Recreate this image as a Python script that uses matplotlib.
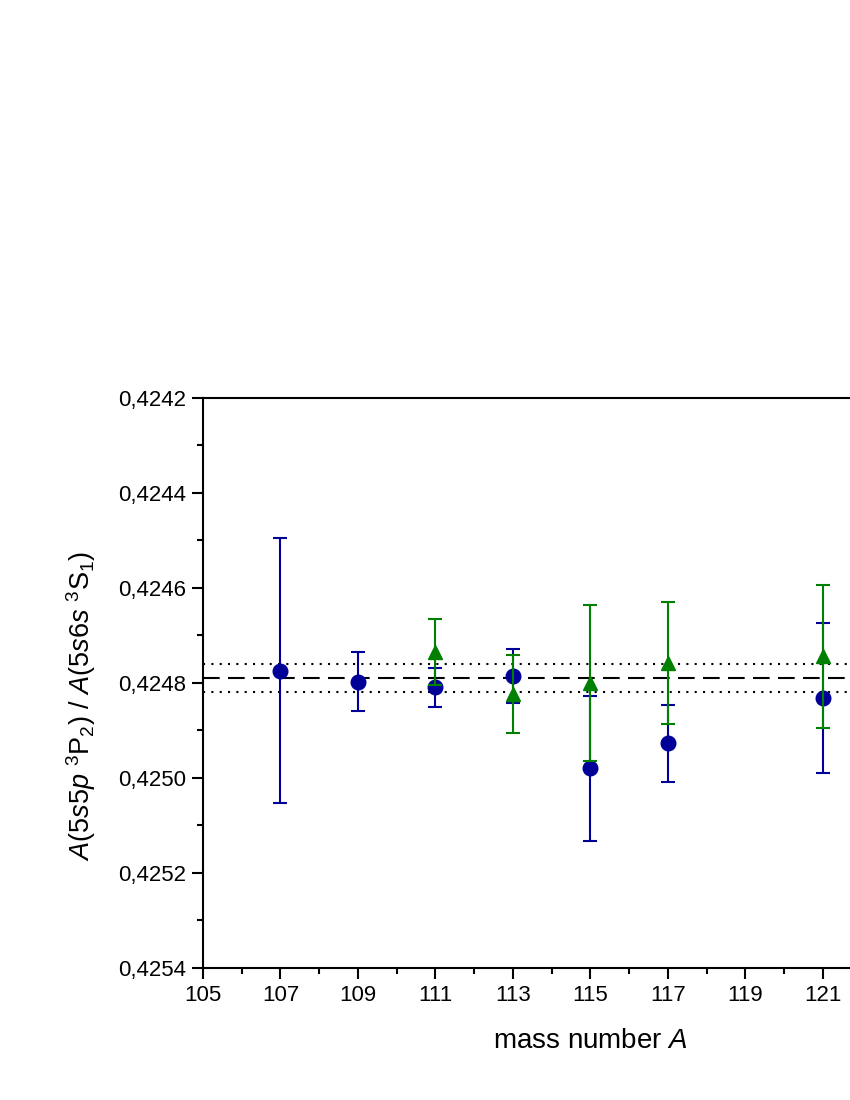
import matplotlib
matplotlib.use("Agg")
import matplotlib.pyplot as plt
from matplotlib.ticker import MultipleLocator, FuncFormatter

plt.rcParams['font.family'] = ['Liberation Sans', 'DejaVu Sans']
plt.rcParams['mathtext.fontset'] = 'custom'
plt.rcParams['mathtext.rm'] = 'Liberation Sans'
plt.rcParams['mathtext.it'] = 'Liberation Sans:italic'

# blue circles
mass_blue = [107, 109, 111, 113, 115, 117, 121]
ratio_blue = [0.424774, 0.424797, 0.424809, 0.424785, 0.424980, 0.424927, 0.424831]
err_blue = [0.000279, 0.000063, 0.000041, 0.000057, 0.000153, 0.000081, 0.000158]

# green triangles
mass_green = [111, 113, 115, 117, 121]
ratio_green = [0.424735, 0.424823, 0.424800, 0.424758, 0.424744]
err_green = [0.000069, 0.000082, 0.000164, 0.000129, 0.000150]

# mean value and its band
mean_ratio = 0.424790
band_lo = 0.424759
band_hi = 0.424820

fig = plt.figure(figsize=(8.5, 11), dpi=100)
ax = fig.add_axes([0.2388, 0.12, 0.775, 0.5182])

ax.axhline(band_lo, color='black', lw=1.5, ls=(0, (1, 3)), zorder=1)
ax.axhline(band_hi, color='black', lw=1.5, ls=(0, (1, 3)), zorder=1)
ax.axhline(mean_ratio, color='black', lw=1.5, ls=(0, (8, 4)), zorder=1)

ax.errorbar(mass_blue, ratio_blue, yerr=err_blue, fmt='o', color='#000099',
            ms=10.5, elinewidth=1.5, capsize=5, capthick=1.5, zorder=3)
ax.errorbar(mass_green, ratio_green, yerr=err_green, fmt='^', color='#008000',
            ms=10.5, elinewidth=1.5, capsize=5, capthick=1.5, zorder=4)

ax.set_xlim(105, 122)
ax.set_ylim(0.4254, 0.4242)

ax.xaxis.set_major_locator(MultipleLocator(2, offset=1))
ax.xaxis.set_minor_locator(MultipleLocator(1))
ax.yaxis.set_major_locator(MultipleLocator(0.0002))
ax.yaxis.set_minor_locator(MultipleLocator(0.0001))
ax.yaxis.set_major_formatter(FuncFormatter(lambda v, p: ('%.4f' % v).replace('.', ',')))

ax.tick_params(which='major', direction='out', length=8, width=1.5, labelsize=16, pad=4)
ax.tick_params(which='minor', direction='out', length=4, width=1.5)
ax.tick_params(top=False, right=False)
for s in ax.spines.values():
    s.set_linewidth(1.5)

ax.set_xlabel(r'mass number $\mathit{A}$', fontsize=20)
ax.xaxis.set_label_coords(0.5875, -0.105)
ax.set_ylabel(r'$\mathit{A(5s5p}\ ^{3}\mathrm{P}_{2}\mathrm{)\ /\ }\mathit{A(5s6s}\ ^{3}\mathrm{S}_{\mathit{1}}\mathrm{)}$',
              fontsize=19.5)
ax.yaxis.set_label_coords(-0.16, 0.46)

fig.savefig('out.png', dpi=100)
